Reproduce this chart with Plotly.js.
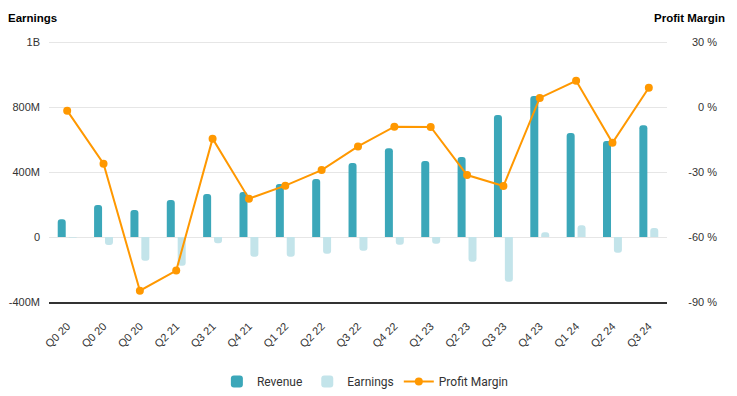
<!DOCTYPE html>
<html>
<head>
<meta charset="utf-8">
<script src="https://cdn.plot.ly/plotly-3.0.1.min.js"></script>
<style>html,body{margin:0;padding:0;background:#fff;}#chart{width:737px;height:396px;}</style>
</head>
<body>
<div id="chart"></div>
<script>
var quarters = ["Q0 20","Q0 20","Q0 20","Q2 21","Q3 21","Q4 21","Q1 22","Q2 22","Q3 22","Q4 22","Q1 23","Q2 23","Q3 23","Q4 23","Q1 24","Q2 24","Q3 24"];
var revenue  = [109e6,197e6,166e6,228e6,265e6,277e6,326e6,357e6,455e6,546e6,468e6,492e6,751e6,868e6,640e6,591e6,687e6];
var earnings = [-4e6,-49e6,-146e6,-177e6,-39e6,-121e6,-121e6,-103e6,-84e6,-47e6,-41e6,-152e6,-275e6,29e6,72e6,-97e6,55e6];
var margin   = [-1.7,-26.2,-84.8,-75.5,-14.6,-42.3,-36.3,-29.1,-18.2,-9.1,-9.2,-31.4,-36.5,4.2,12.1,-16.5,8.9];
var leftTickVals = [-4e8,0,4e8,8e8,1.2e9];
var leftTickText = ["-400M","0","400M","800M","1B"];
var rightTickVals = [-90,-60,-30,0,30];
var rightTickText = ["-90 %","-60 %","-30 %","0 %","30 %"];

var xIdx = quarters.map(function(_, i){ return i; });

var traces = [
  {type:'bar', name:'Revenue', x:xIdx, y:revenue, width:0.22, offset:-0.26,
   marker:{color:'#3BA7B9'}, hoverinfo:'y'},
  {type:'bar', name:'Earnings', x:xIdx, y:earnings, width:0.22, offset:0.04,
   marker:{color:'#C3E4EA'}, hoverinfo:'y'},
  {type:'scatter', mode:'lines+markers', name:'Profit Margin', x:xIdx, y:margin, yaxis:'y2',
   line:{color:'#FF9800', width:2}, marker:{color:'#FF9800', size:8}}
];

var layout = {
  width:737, height:396,
  margin:{l:49, r:17, t:38, b:94, autoexpand:false},
  paper_bgcolor:'#fff', plot_bgcolor:'#fff',
  barmode:'overlay', barcornerradius:3,
  font:{family:'"Liberation Sans", Arial, sans-serif', size:11, color:'#333'},
  showlegend:true,
  legend:{orientation:'h', x:0.4715, xanchor:'center', yref:'container', y:1-367/396, yanchor:'top',
          font:{family:'Roboto, sans-serif', size:12, color:'#333'}},
  xaxis:{domain:[0,0.921], range:[-0.5,16.5], tickvals:xIdx, ticktext:quarters, automargin:false,
         tickangle:-45, showgrid:false, zeroline:false, showline:true, linecolor:'#333', linewidth:1.5,
         ticks:'', ticklabelstandoff:12, tickfont:{size:11, color:'#333'}, fixedrange:true},
  yaxis:{range:[-4e8,1.2246e9], tickvals:leftTickVals, ticktext:leftTickText, showgrid:true, automargin:false,
         gridcolor:'#e6e6e6', zeroline:false, ticks:'', ticklabelstandoff:8,
         tickfont:{size:11, color:'#333'}},
  yaxis2:{overlaying:'y', anchor:'free', position:1, side:'right', range:[-90,31.846], automargin:false,
          tickvals:rightTickVals, ticktext:rightTickText, showgrid:false, zeroline:false,
          ticklabelposition:'inside', ticklabeloverflow:'allow', ticks:'', tickfont:{size:11, color:'#333'}},
  annotations:[
    {text:'<b>Earnings</b>', xref:'paper', yref:'paper', x:(6-49)/671, y:(302-18)/264,
     xanchor:'left', yanchor:'middle', showarrow:false, font:{size:11.5, color:'#000'}},
    {text:'<b>Profit Margin</b>', xref:'paper', yref:'paper', x:(727-49)/671, y:(302-18)/264,
     xanchor:'right', yanchor:'middle', showarrow:false, font:{size:11.5, color:'#000'}}
  ]
};

Plotly.newPlot('chart', traces, layout, {displayModeBar:false, staticPlot:true});
</script>
</body>
</html>
